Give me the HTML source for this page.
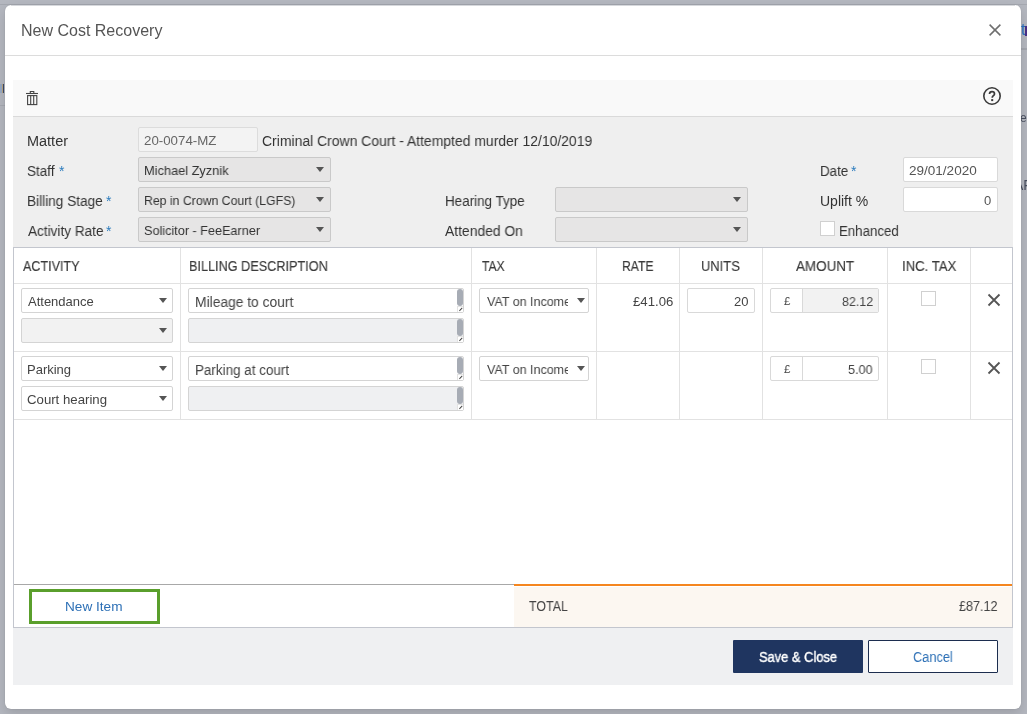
<!DOCTYPE html>
<html><head><meta charset="utf-8">
<style>
*{box-sizing:border-box;margin:0;padding:0}
html,body{width:1027px;height:714px;overflow:hidden;background:#b4b7bf;font-family:"Liberation Sans",sans-serif;color:#333}
.a{position:absolute}
.t{position:absolute;white-space:nowrap;line-height:1;will-change:transform}
#modal{position:absolute;left:5px;top:5px;width:1016px;height:704px;background:#fff;border-radius:6px;box-shadow:0 0 1px rgba(40,44,52,.35),0 5px 12px rgba(0,0,0,.13)}
.sel{position:absolute;height:25px;border:1px solid #c9c9c9;border-radius:2px;background:#e6e5e5}
.sel.w{background:#fff;border-color:#d4d4d4}
.sel.g{background:#f2f2f2;border-color:#d4d4d4}
.caret{position:absolute;width:0;height:0;border-left:4px solid transparent;border-right:4px solid transparent;border-top:5px solid #555}
.inp{position:absolute;height:25px;border:1px solid #d9d9d9;border-radius:2px;background:#fff}
.vl{position:absolute;width:1px;background:#e2e2e2}
.hl{position:absolute;height:1px;background:#e2e2e2}
.ta{position:absolute;height:25px;border:1px solid #d4d4d4;border-radius:2px;background:#fff}
.ta.g{background:#eff0f2}
.sb{position:absolute;right:0px;top:0px;width:6px;height:17px;border-radius:3px;background:#a7acb5}
.grip{position:absolute;right:0px;bottom:0px;width:6px;height:6px;background:#fff;border-left:1px solid #e3e3e3;border-top:1px solid #e3e3e3}
.grip:after{content:"";position:absolute;left:1px;top:1.5px;width:3.5px;height:1.3px;background:#444;transform:rotate(-45deg)}
.cb{position:absolute;width:15px;height:15px;border:1px solid #d0d0d0;background:#fff}
</style></head><body>
<!-- background page fragments -->
<div class="a" style="left:0;top:4px;width:1027px;height:1px;background:#a5a8b0"></div>
<div class="a" style="left:0;top:105px;width:5px;height:1px;background:#a6a9b1"></div>
<div class="a" style="left:1021px;top:48px;width:6px;height:2px;background:#a4a7af"></div>
<div class="a" style="left:0;top:84px;width:2px;height:9px;background:#98aac4"></div>
<div class="a" style="left:2px;top:84px;width:1px;height:9px;background:#b9a582"></div>
<div class="a" style="left:3px;top:84px;width:1px;height:9px;background:#3a4a6a"></div>
<div class="t" style="left:1021px;top:22px;font-size:16px;color:#2a6fc0">t</div><div class="a" style="left:1025px;top:26px;width:2px;height:10px;background:#4a3088"></div>
<div class="t" style="left:1020px;top:112px;font-size:12px;color:#4a5060">e</div>
<div class="t" style="left:1014px;top:178px;font-size:14px;color:#4a5060">AF</div>

<div id="modal"></div>
<div class="a" style="left:11px;top:5px;width:1004px;height:1px;background:#d6d8dc"></div>

<!-- header -->
<svg class="a" style="left:988px;top:23px" width="14" height="14" viewBox="0 0 14 14"><path d="M1.6 1.6L12.4 12.4M12.4 1.6L1.6 12.4" stroke="#6e6e6e" stroke-width="1.5" fill="none"/></svg>
<div class="a" style="left:5px;top:55px;width:1016px;height:1px;background:#dcdcdc"></div>

<!-- toolbar -->
<div class="a" style="left:13px;top:80px;width:1000px;height:36px;background:#f9f9f9"></div>
<div class="a" style="left:13px;top:116px;width:1000px;height:1px;background:#dadada"></div>
<svg class="a" style="left:25px;top:90px" width="14" height="16" viewBox="0 0 14 16">
 <path d="M1 3.5H13" stroke="#444" stroke-width="1.1"/>
 <path d="M5.3 3.3V1.5H8.8V3.3" stroke="#444" stroke-width="1.1" fill="none"/>
 <rect x="2.6" y="5.6" width="9.2" height="9" stroke="#444" stroke-width="1.1" fill="none"/>
 <path d="M5.7 5.6V15M8.7 5.6V15" stroke="#444" stroke-width="1.1"/>
</svg>
<svg class="a" style="left:982px;top:86px" width="20" height="20" viewBox="0 0 20 20">
 <circle cx="10" cy="10" r="8.2" stroke="#3a3a3a" stroke-width="1.6" fill="none"/>
 <path d="M7.5 8.1C7.5 6.5 8.6 5.6 10 5.6C11.4 5.6 12.5 6.5 12.5 7.9C12.5 9.6 10.2 9.9 10.2 11.8" stroke="#3a3a3a" stroke-width="1.7" fill="none"/>
 <rect x="9.2" y="13.1" width="2" height="2" fill="#3a3a3a"/>
</svg>

<!-- form area -->
<div class="a" style="left:13px;top:117px;width:1000px;height:130px;background:#efefef"></div>
<div class="inp" style="left:138px;top:127px;width:120px;background:#f3f3f3;border-color:#dcdcdc"></div>
<div class="sel" style="left:138px;top:157px;width:193px"><div class="caret" style="left:177px;top:9px"></div></div>
<div class="sel" style="left:138px;top:187px;width:193px"><div class="caret" style="left:177px;top:9px"></div></div>
<div class="sel" style="left:138px;top:217px;width:193px"><div class="caret" style="left:177px;top:9px"></div></div>
<div class="sel" style="left:555px;top:187px;width:193px"><div class="caret" style="left:177px;top:9px"></div></div>
<div class="sel" style="left:555px;top:217px;width:193px"><div class="caret" style="left:177px;top:9px"></div></div>
<div class="inp" style="left:903px;top:157px;width:95px"></div>
<div class="inp" style="left:903px;top:187px;width:95px"></div>
<div class="cb" style="left:820px;top:221px"></div>

<!-- table -->
<div class="a" style="left:13px;top:247px;width:1000px;height:381px;background:#fff;border:1px solid #c3c6ce"></div>
<div class="hl" style="left:14px;top:283px;width:998px"></div>
<div class="hl" style="left:14px;top:351px;width:998px"></div>
<div class="hl" style="left:14px;top:419px;width:998px"></div>
<div class="vl" style="left:180px;top:248px;height:171px"></div>
<div class="vl" style="left:471px;top:248px;height:171px"></div>
<div class="vl" style="left:596px;top:248px;height:171px"></div>
<div class="vl" style="left:679px;top:248px;height:171px"></div>
<div class="vl" style="left:762px;top:248px;height:171px"></div>
<div class="vl" style="left:887px;top:248px;height:171px"></div>
<div class="vl" style="left:970px;top:248px;height:171px"></div>

<!-- row 1 -->
<div class="sel w" style="left:21px;top:288px;width:152px"><div class="caret" style="left:137px;top:9px"></div></div>
<div class="sel g" style="left:21px;top:318px;width:152px"><div class="caret" style="left:137px;top:9px"></div></div>
<div class="ta" style="left:188px;top:288px;width:276px"><div class="sb"></div><div class="grip"></div></div>
<div class="ta g" style="left:188px;top:318px;width:276px"><div class="sb"></div><div class="grip"></div></div>
<div class="sel w" style="left:479px;top:288px;width:110px"><div class="caret" style="left:97px;top:9px"></div>
  <div class="a" style="left:7px;top:0;width:81px;height:23px;overflow:hidden"><div class="t" style="left:0;top:6px;font-size:13px;color:#444;transform:scaleX(.96);transform-origin:0 0">VAT on Income</div></div></div>
<div class="inp" style="left:687px;top:288px;width:68px"></div>
<div class="inp" style="left:770px;top:288px;width:109px"></div>
<div class="a" style="left:802px;top:289px;width:76px;height:23px;background:#f2f2f2;border-left:1px solid #d9d9d9"></div>
<div class="t" style="left:784px;top:296px;font-size:11.5px;color:#444">£</div>
<div class="cb" style="left:921px;top:291px"></div>
<svg class="a" style="left:987px;top:293px" width="14" height="14" viewBox="0 0 14 14"><path d="M1.5 1.5L12.5 12.5M12.5 1.5L1.5 12.5" stroke="#555" stroke-width="1.8" fill="none"/></svg>

<!-- row 2 -->
<div class="sel w" style="left:21px;top:356px;width:152px"><div class="caret" style="left:137px;top:9px"></div></div>
<div class="sel w" style="left:21px;top:386px;width:152px"><div class="caret" style="left:137px;top:9px"></div></div>
<div class="ta" style="left:188px;top:356px;width:276px"><div class="sb"></div><div class="grip"></div></div>
<div class="ta g" style="left:188px;top:386px;width:276px"><div class="sb"></div><div class="grip"></div></div>
<div class="sel w" style="left:479px;top:356px;width:110px"><div class="caret" style="left:97px;top:9px"></div>
  <div class="a" style="left:7px;top:0;width:81px;height:23px;overflow:hidden"><div class="t" style="left:0;top:6px;font-size:13px;color:#444;transform:scaleX(.96);transform-origin:0 0">VAT on Income</div></div></div>
<div class="inp" style="left:770px;top:356px;width:109px"></div>
<div class="a" style="left:802px;top:357px;width:1px;height:23px;background:#d9d9d9"></div>
<div class="t" style="left:784px;top:364px;font-size:11.5px;color:#444">£</div>
<div class="cb" style="left:921px;top:359px"></div>
<svg class="a" style="left:987px;top:361px" width="14" height="14" viewBox="0 0 14 14"><path d="M1.5 1.5L12.5 12.5M12.5 1.5L1.5 12.5" stroke="#555" stroke-width="1.8" fill="none"/></svg>

<!-- table footer -->
<div class="a" style="left:14px;top:584px;width:500px;height:1px;background:#a8a8a8"></div>
<div class="a" style="left:514px;top:584px;width:498px;height:2px;background:#f5861f"></div>
<div class="a" style="left:514px;top:587px;width:498px;height:40px;background:#fcf7f1"></div>
<div class="a" style="left:29px;top:589px;width:131px;height:35px;border:3px solid #5a9f2c;background:#fff"></div>

<!-- modal footer -->
<div class="a" style="left:13px;top:628px;width:1000px;height:57px;background:#eff0f2"></div>
<div class="a" style="left:733px;top:640px;width:130px;height:33px;background:#1f3560;border-radius:1px"></div>
<div class="a" style="left:868px;top:640px;width:130px;height:33px;background:#fff;border:1px solid #1c2d4f;border-radius:1px"></div>
<div class="t" style="left:20.5px;top:23px;font-size:16px;color:#555;">New Cost Recovery</div>
<div class="t" style="left:27.4px;top:134px;font-size:14px;color:#333;transform:scaleX(1.0333);transform-origin:0 0;">Matter</div>
<div class="t" style="left:27.4px;top:164px;font-size:14px;color:#333;transform:scaleX(0.9607);transform-origin:0 0;">Staff</div>
<div class="t" style="left:27.4px;top:194px;font-size:14px;color:#333;transform:scaleX(0.9737);transform-origin:0 0;">Billing Stage</div>
<div class="t" style="left:28.4px;top:224px;font-size:14px;color:#333;transform:scaleX(0.9714);transform-origin:0 0;">Activity Rate</div>
<div class="t" style="left:58.5px;top:164px;font-size:14px;color:#2b7bbd;">*</div>
<div class="t" style="left:105.6px;top:194px;font-size:14px;color:#2b7bbd;">*</div>
<div class="t" style="left:106.2px;top:224px;font-size:14px;color:#2b7bbd;">*</div>
<div class="t" style="left:262.3px;top:134px;font-size:14px;color:#333;transform:scaleX(0.9961);transform-origin:0 0;">Criminal Crown Court - Attempted murder 12/10/2019</div>
<div class="t" style="left:444.6px;top:194px;font-size:14px;color:#333;transform:scaleX(0.9585);transform-origin:0 0;">Hearing Type</div>
<div class="t" style="left:445.0px;top:224px;font-size:14px;color:#333;transform:scaleX(0.991);transform-origin:0 0;">Attended On</div>
<div class="t" style="left:819.7px;top:164px;font-size:14px;color:#333;transform:scaleX(0.9536);transform-origin:0 0;">Date</div>
<div class="t" style="left:850.9px;top:164px;font-size:14px;color:#2b7bbd;">*</div>
<div class="t" style="left:819.7px;top:194px;font-size:14px;color:#333;transform:scaleX(0.9936);transform-origin:0 0;">Uplift %</div>
<div class="t" style="left:839.2px;top:224px;font-size:14px;color:#333;transform:scaleX(0.9475);transform-origin:0 0;">Enhanced</div>
<div class="t" style="left:144.4px;top:134px;font-size:13px;color:#666;transform:scaleX(1.0229);transform-origin:0 0;">20-0074-MZ</div>
<div class="t" style="left:144.4px;top:164px;font-size:13px;color:#333;transform:scaleX(0.9835);transform-origin:0 0;">Michael Zyznik</div>
<div class="t" style="left:144.4px;top:194px;font-size:13px;color:#333;transform:scaleX(0.944);transform-origin:0 0;">Rep in Crown Court (LGFS)</div>
<div class="t" style="left:144.4px;top:224px;font-size:13px;color:#333;transform:scaleX(0.9729);transform-origin:0 0;">Solicitor - FeeEarner</div>
<div class="t" style="left:909.3px;top:164px;font-size:13px;color:#555;transform:scaleX(1.0406);transform-origin:0 0;">29/01/2020</div>
<div class="t" style="left:984.0px;top:194px;font-size:13px;color:#555;">0</div>
<div class="t" style="left:22.5px;top:259px;font-size:14px;color:#3a3a3a;transform:scaleX(0.8968);transform-origin:0 0;-webkit-text-stroke:0.15px #3a3a3a;">ACTIVITY</div>
<div class="t" style="left:189.1px;top:259px;font-size:14px;color:#3a3a3a;transform:scaleX(0.9053);transform-origin:0 0;-webkit-text-stroke:0.15px #3a3a3a;">BILLING DESCRIPTION</div>
<div class="t" style="left:481.8px;top:259px;font-size:14px;color:#3a3a3a;transform:scaleX(0.8654);transform-origin:0 0;-webkit-text-stroke:0.15px #3a3a3a;">TAX</div>
<div class="t" style="left:622.2px;top:259px;font-size:14px;color:#3a3a3a;transform:scaleX(0.8686);transform-origin:0 0;-webkit-text-stroke:0.15px #3a3a3a;">RATE</div>
<div class="t" style="left:701.4px;top:259px;font-size:14px;color:#3a3a3a;transform:scaleX(0.9244);transform-origin:0 0;-webkit-text-stroke:0.15px #3a3a3a;">UNITS</div>
<div class="t" style="left:796.0px;top:259px;font-size:14px;color:#3a3a3a;transform:scaleX(0.959);transform-origin:0 0;-webkit-text-stroke:0.15px #3a3a3a;">AMOUNT</div>
<div class="t" style="left:901.5px;top:259px;font-size:14px;color:#3a3a3a;transform:scaleX(0.9386);transform-origin:0 0;-webkit-text-stroke:0.15px #3a3a3a;">INC. TAX</div>
<div class="t" style="left:28.4px;top:295px;font-size:13px;color:#444;">Attendance</div>
<div class="t" style="left:195.0px;top:295px;font-size:14px;color:#444;transform:scaleX(0.9869);transform-origin:0 0;">Mileage to court</div>
<div class="t" style="left:632.9px;top:295px;font-size:13px;color:#444;transform:scaleX(1.0128);transform-origin:0 0;">£41.06</div>
<div class="t" style="left:734.3px;top:295px;font-size:13px;color:#444;">20</div>
<div class="t" style="left:841.5px;top:295px;font-size:13px;color:#444;transform:scaleX(0.9594);transform-origin:0 0;">82.12</div>
<div class="t" style="left:847.8px;top:363px;font-size:13px;color:#444;transform:scaleX(0.975);transform-origin:0 0;">5.00</div>
<div class="t" style="left:27.4px;top:363px;font-size:13px;color:#444;transform:scaleX(0.9929);transform-origin:0 0;">Parking</div>
<div class="t" style="left:27.4px;top:393px;font-size:13px;color:#444;transform:scaleX(1.0156);transform-origin:0 0;">Court hearing</div>
<div class="t" style="left:195.0px;top:363px;font-size:14px;color:#444;transform:scaleX(0.9588);transform-origin:0 0;">Parking at court</div>
<div class="t" style="left:529.1px;top:599px;font-size:14px;color:#444;transform:scaleX(0.8864);transform-origin:0 0;">TOTAL</div>
<div class="t" style="left:958.7px;top:599px;font-size:14px;color:#444;transform:scaleX(0.9);transform-origin:0 0;">£87.12</div>
<div class="t" style="left:65.2px;top:600px;font-size:13px;color:#2d70b6;transform:scaleX(1.0472);transform-origin:0 0;">New Item</div>
<div class="t" style="left:758.6px;top:650px;font-size:14px;color:#fff;transform:scaleX(0.92);transform-origin:0 0;-webkit-text-stroke:0.4px #fff;">Save &amp; Close</div>
<div class="t" style="left:912.7px;top:650px;font-size:14px;color:#2d70b6;transform:scaleX(0.9119);transform-origin:0 0;">Cancel</div>
</body></html>
